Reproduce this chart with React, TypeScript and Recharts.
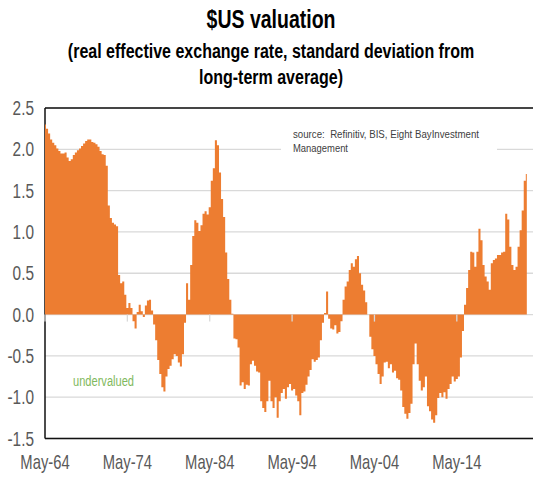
import React from 'react';
import { AreaChart, Area, XAxis, YAxis, CartesianGrid, ReferenceLine } from 'recharts';

// Quarterly readings, starting May-64 (May, Aug, Nov, Feb ...)
const MONTH_NAMES = ['Jan', 'Feb', 'Mar', 'Apr', 'May', 'Jun', 'Jul', 'Aug', 'Sep', 'Oct', 'Nov', 'Dec'];
const START_YEAR = 1964;
const START_MONTH = 5;

const v1964_1973 = [
  2.30, 2.25, 2.19, 2.12, 2.08, 2.05, 2.01, 1.98, 1.95, 1.95,
  1.96, 1.90, 1.86, 1.88, 1.93, 1.96, 1.99, 2.01, 2.04, 2.07,
  2.10, 2.12, 2.12, 2.09, 2.08, 2.06, 2.03, 1.98, 1.94, 1.93,
  1.80, 1.32, 1.17, 1.11, 1.09, 1.07, 0.48, 0.38, 0.40, 0.24,
];
const v1974_1983 = [
  0.08, 0.14, 0.08, -0.08, -0.17, 0.03, 0.12, 0.04, -0.03, 0.11,
  0.17, 0.18, 0.05, -0.12, -0.31, -0.55, -0.72, -0.88, -0.93, -0.75,
  -0.66, -0.62, -0.54, -0.48, -0.50, -0.58, -0.63, -0.48, -0.10, 0.38,
  0.18, 0.60, 0.95, 1.14, 1.11, 1.01, 1.08, 1.22, 1.25, 1.21,
];
const v1984_1993 = [
  1.30, 1.62, 1.77, 2.11, 2.05, 1.72, 1.40, 1.18, 0.75, 0.43,
  0.18, 0.01, -0.29, -0.30, -0.40, -0.86, -0.82, -0.90, -0.85, -0.86,
  -0.60, -0.56, -0.62, -0.69, -0.70, -1.05, -1.13, -1.18, -1.05, -0.80,
  -1.05, -1.13, -1.00, -1.25, -1.05, -0.95, -0.90, -1.02, -0.88, -0.84,
];
const v1994_2003 = [
  -0.92, -0.90, -0.98, -1.05, -1.22, -0.95, -0.93, -0.85, -0.75, -0.67,
  -0.54, -0.57, -0.55, -0.52, -0.31, -0.10, 0.02, 0.28, -0.05, -0.17,
  -0.18, -0.13, -0.23, -0.21, -0.08, 0.18, 0.34, 0.40, 0.54, 0.62,
  0.58, 0.67, 0.71, 0.50, 0.36, 0.29, 0.15, 0.00, -0.27, -0.42,
];
const v2004_2013 = [
  -0.50, -0.60, -0.72, -0.84, -0.75, -0.58, -0.57, -0.65, -0.60, -0.70,
  -0.68, -0.77, -0.79, -0.92, -1.12, -1.20, -1.26, -1.19, -1.08, -0.60,
  -0.35, -0.60, -0.80, -0.92, -0.88, -0.75, -1.11, -1.17, -1.27, -1.31,
  -1.22, -1.01, -0.95, -1.00, -0.94, -1.02, -0.90, -0.84, -0.75, -0.81,
];
const v2014_2022 = [
  -0.78, -0.75, -0.52, -0.20, 0.12, 0.32, 0.54, 0.76, 0.75, 0.58,
  0.76, 1.04, 0.90, 0.60, 0.46, 0.40, 0.30, 0.62, 0.66, 0.68,
  0.72, 0.72, 0.75, 0.76, 1.22, 1.15, 0.82, 0.60, 0.54, 0.58,
  0.82, 1.02, 1.26, 1.62, 1.70,
];

const values = [...v1964_1973, ...v1974_1983, ...v1984_1993, ...v1994_2003, ...v2004_2013, ...v2014_2022];

const categories = values.map((_, i) => {
  const m = START_MONTH - 1 + 3 * i;
  const year = START_YEAR + Math.floor(m / 12);
  return `${MONTH_NAMES[m % 12]}-${String(year % 100).padStart(2, '0')}`;
});

const xTickLabels = ['May-64', 'May-74', 'May-84', 'May-94', 'May-04', 'May-14'];
const yTicks = [-1.5, -1.0, -0.5, 0.0, 0.5, 1.0, 1.5, 2.0, 2.5];

const data = values.map((v, i) => ({ i, date: categories[i], value: v }));
const xTickIdx = xTickLabels.map((l) => categories.indexOf(l));

const FONT = '"Liberation Sans", Arial, Helvetica, sans-serif';
const ORANGE = '#ED7D31';
const GRID = '#d9d9d9';

const XTick = (props: any) => {
  const { x, y, payload } = props;
  return (
    <g transform={`translate(${x},${y + 30.5}) scale(0.74,1)`}>
      <text x={0} y={0} textAnchor="middle" fontSize={20} fill="#595959" fontFamily={FONT}>
        {categories[payload.value]}
      </text>
    </g>
  );
};

const YTick = (props: any) => {
  const { x, y, payload } = props;
  return (
    <g transform={`translate(${x - 11},${y}) scale(0.77,1)`}>
      <text x={0} y={0} dy="0.35em" textAnchor="end" fontSize={20} fill="#595959" fontFamily={FONT}>
        {Number(payload.value).toFixed(1)}
      </text>
    </g>
  );
};

export default function App() {
  return (
    <div style={{ position: 'absolute', left: 0, top: 0, width: 533, height: 477, background: '#fff' }}>
      <AreaChart width={533} height={477} data={data} margin={{ top: 108, right: 0, bottom: 0, left: 0 }}>
        <CartesianGrid horizontal vertical={false} stroke={GRID} strokeWidth={1.3} />
        <XAxis
          type="number"
          dataKey="i"
          domain={[0, 237]}
          ticks={xTickIdx}
          interval={0}
          axisLine={false}
          tickLine={false}
          tickSize={0}
          tickMargin={0}
          height={38.5}
          tick={<XTick />}
          allowDataOverflow
        />
        <YAxis
          type="number"
          domain={[-1.5, 2.5]}
          ticks={yTicks}
          interval={0}
          axisLine={false}
          tickLine={false}
          tickSize={0}
          tickMargin={0}
          width={45}
          tick={<YTick />}
          allowDataOverflow
        />
        <ReferenceLine x={0} stroke="#111" strokeWidth={1.5} zIndex={50} />
        <Area
          type="step"
          dataKey="value"
          baseValue={0}
          stroke="none"
          fill={ORANGE}
          fillOpacity={1}
          isAnimationActive={false}
          dot={false}
          activeDot={false}
        />
        {xTickIdx.map((t) => (
          <ReferenceLine
            key={t}
            segment={[{ x: t, y: 0 }, { x: t, y: -0.085 }]}
            stroke={GRID}
            strokeWidth={1.3}
          />
        ))}
        <ReferenceLine y={2.5} stroke="#111" strokeWidth={1.5} />
        <ReferenceLine y={-1.5} stroke="#111" strokeWidth={1.5} />
      </AreaChart>
      <svg width={533} height={477} style={{ position: 'absolute', left: 0, top: 0, pointerEvents: 'none' }}>
        <text transform="translate(271,28) scale(0.75,1)" textAnchor="middle" fontSize={26} fontWeight="bold" fill="#000" fontFamily={FONT}>
          $US valuation
        </text>
        <text transform="translate(271,58) scale(0.8,1)" textAnchor="middle" fontSize={20} fontWeight="bold" fill="#000" fontFamily={FONT}>
          (real effective exchange rate, standard deviation from
        </text>
        <text transform="translate(271,84) scale(0.8,1)" textAnchor="middle" fontSize={20} fontWeight="bold" fill="#000" fontFamily={FONT}>
          long-term average)
        </text>
        <rect x={281} y={118} width={216} height={40} fill="#fff" />
        <text x={293} y={138} fontSize={11} fill="#404040" fontFamily={FONT} textLength={186} lengthAdjust="spacingAndGlyphs" style={{ whiteSpace: 'pre' }}>
          source:  Refinitiv, BIS, Eight BayInvestment
        </text>
        <text x={293} y={152} fontSize={11} fill="#404040" fontFamily={FONT} textLength={55} lengthAdjust="spacingAndGlyphs">
          Management
        </text>
        <text x={73} y={386} fontSize={14} fill="#7FB95E" fontFamily={FONT} textLength={61} lengthAdjust="spacingAndGlyphs">
          undervalued
        </text>
      </svg>
    </div>
  );
}
